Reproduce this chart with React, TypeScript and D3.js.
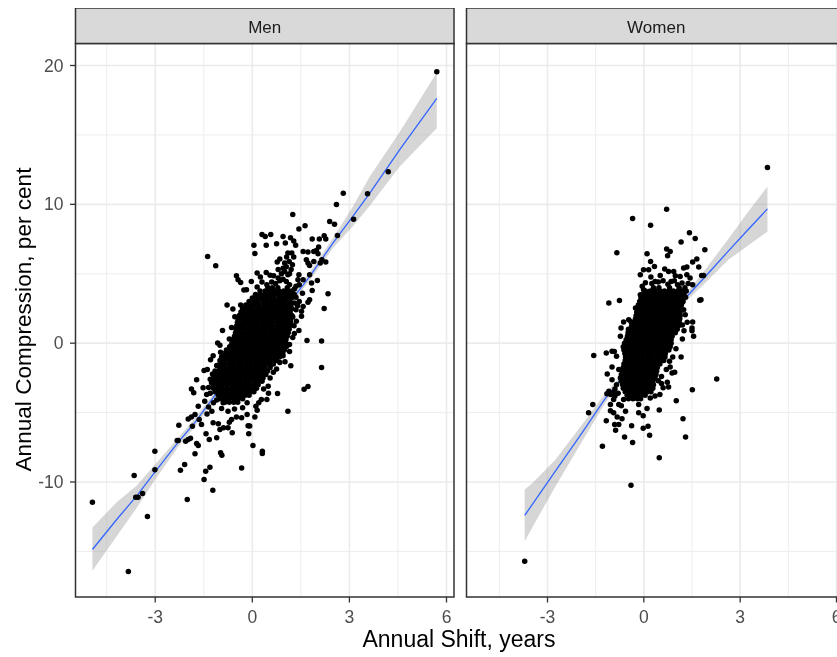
import React from "react";
import * as d3 from "d3";

const xMajor = [-3, 0, 3, 6];
const xMinor = [-4.5, -1.5, 1.5, 4.5];
const yMajor = [-10, 0, 10, 20];
const yMinor = [-15, -5, 5, 15];
const xTickLabels = ["-3", "0", "3", "6"];
const yTickLabels = ["-10", "0", "10", "20"];

const menFitX = [-4.94, -4.19, -3.57, -3.01, -2.3, -1.77, -1.21, -0.5, 0.2, 1.26, 1.77, 2.49, 3.1, 3.63, 4.55, 5.7];
const menFit = [-14.86, -12.7, -11.0, -9.29, -7.16, -5.7, -3.94, -1.6, 0.55, 3.25, 4.8, 7.2, 9.12, 10.8, 13.92, 17.64];
const menHi = [-13.27, -11.45, -10.25, -8.75, -6.85, -5.4, -3.7, -1.45, 0.7, 3.5, 5.1, 7.55, 9.8, 12.0, 15.2, 19.5];
const menLo = [-16.4, -13.9, -11.85, -9.85, -7.5, -6.0, -4.2, -1.75, 0.4, 3.0, 4.5, 6.85, 8.4, 9.9, 12.7, 15.48];

const womenFitX = [-3.71, -3.45, -2.75, -1.92, -1.2, -0.72, 0, 0.7, 1.39, 1.91, 2.63, 3.25, 3.85];
const womenFit = [-12.41, -11.54, -9.2, -6.44, -3.97, -2.63, -0.5, 1.5, 3.49, 4.78, 6.63, 8.19, 9.67];
const womenHi = [-10.54, -10.04, -8.38, -5.86, -3.6, -2.4, -0.35, 1.7, 3.8, 5.28, 7.5, 9.46, 11.28];
const womenLo = [-14.26, -13.18, -10.3, -7.06, -4.3, -2.85, -0.65, 1.3, 3.2, 4.33, 6.0, 7.03, 8.04];

// scattered observations, [shift, compression]
const menScatter: number[][] = [
  [5.7,19.55],[4.2,12.34],[3.56,10.76],[3.13,8.93],[2.81,10.8],[2.6,9.99],[2.39,8.76],[2.54,8.57],[2.63,7.75],
  [1.25,9.27],[1.44,8.22],[1.63,8.45],[0.3,7.83],[0.4,7.68],[0.57,7.83],[0.05,7.06],[0.43,7.06],[0.08,6.46],[0.75,7.16],
  [0.95,7.68],[1.02,7.21],[1.18,7.59],[1.28,7.35],[1.34,7.06],[1.85,7.5],[2.07,7.5],[2.22,7.73],[2.27,7.5],[2.05,6.92],
  [1.98,6.68],[1.57,6.6],[1.72,6.56],[1.9,6.6],[2.03,6.44],[1.1,6.49],[1.22,6.49],[1.28,6.2],[0.85,6.06],[0.77,5.84],
  [1.06,6.2],[1.14,5.88],[1.0,5.77],[1.24,5.65],[1.67,6.0],[1.72,5.77],[1.9,5.88],[1.77,5.6],[2.15,6.0],[2.27,5.84],[2.1,5.77],
  [-1.38,6.25],[-1.13,5.58],[0.15,5.05],[0.25,4.76],[0.43,5.09],[-0.49,4.86],[-0.44,4.57],[-0.36,4.37],[-0.03,4.45],[0.66,4.86],
  [1.0,5.17],[1.1,4.93],[1.44,4.93],[1.57,4.57],[1.41,4.57],[1.77,4.93],[2.01,4.52],[1.83,4.33],[1.85,3.8],[2.34,3.56],
  [2.22,2.5],[1.77,3.13],[1.72,2.95],[1.57,2.65],[1.52,2.29],[1.36,1.57],[1.29,1.26],[1.52,1.93],[1.44,0.92],[1.69,0.2],[2.14,0.16],
  [1.45,4.2],[1.3,3.9],[1.55,3.6],[1.35,3.3],[1.45,3.0],[0.6,4.4],[0.85,4.5],[1.05,4.45],[0.3,4.4],[0.15,4.05],
  [0.55,4.9],[0.8,4.7],[0.95,4.6],[0.72,4.3],[0.45,4.2],[1.15,4.2],[0.9,5.0],[0.8,5.3],[1.35,4.1],[1.3,3.5],[1.4,2.7],[1.35,2.4],[1.3,2.9],[1.05,5.5],[1.2,5.3],[1.15,5.0],[0.95,5.4],
  [-0.18,3.85],[-0.26,3.83],[-0.78,2.75],[-0.6,2.46],[-0.36,2.75],[-0.54,1.9],[-0.92,0.92],[-0.64,1.12],[-0.71,0.3],[-1.07,0.01],[-1.0,-0.15],
  [1.19,-1.62],[1.01,-1.33],[2.14,-1.76],[0.75,-1.86],[1.72,-3.13],[1.6,-3.32],[0.78,-3.63],[0.49,-3.1],[0.5,-3.6],[0.45,-4.06],[0.28,-4.06],
  [1.1,-4.9],[0.11,-4.54],[0.15,-4.83],[0.08,-5.31],[-0.16,-4.3],[-0.3,-4.66],[-0.16,-5.13],[-0.33,-5.38],[-0.49,-5.31],[-0.64,-5.5],[-0.71,-5.7],
  [-0.13,-5.94],[-0.08,-5.96],[-0.11,-6.53],[-0.62,-6.46],[-0.75,-6.1],[-0.89,-6.1],[-1.1,-6.82],[-1.0,-6.22],[-1.05,-5.8],[-1.21,-5.74],[-1.33,-6.94],
  [-1.43,-6.53],[-1.57,-5.86],[-1.64,-5.5],[-1.77,-5.14],[-1.88,-5.31],[-1.98,-5.46],[-1.67,-4.54],[-1.47,-4.19],[-1.41,-3.7],[-1.52,-3.22],[-1.26,-2.86],
  [-1.88,-3.3],[-1.81,-3.58],[-1.72,-2.63],[-1.49,-1.96],[-1.39,-1.9],[-1.23,-2.22],[-1.29,-1.19],[-1.21,-0.9],[-0.98,-0.66],[-1.35,-4.6],[-1.25,-4.9],[-0.95,-4.7],[-0.75,-4.9],[-0.55,-4.75],[-1.4,-5.1],
  [-1.1,-1.6],[-1.15,-2.0],[-1.3,-2.6],[-1.35,-3.2],[-1.3,-3.6],[-1.1,-4.1],[-0.9,-4.3],[-1.2,-4.3],[0.2,-4.3],[0.35,-3.3],[0.55,-2.5],[0.65,-2.1],[0.85,-1.4],[0.95,-0.9],[1.15,-0.6],[1.15,-0.1],[1.25,0.4],[1.3,0.7],[1.25,1.9],
  [-2.27,-5.91],[-1.85,-5.98],[-2.32,-7.01],[-2.06,-7.06],[-1.98,-6.94],[-1.91,-6.85],[-1.72,-7.23],[-1.67,-7.37],[-1.77,-7.97],[-0.98,-7.9],[-0.94,-8.07],
  [0.02,-7.37],[0.31,-7.78],[0.31,-7.95],[-2.09,-8.74],[-2.22,-9.15],[-1.31,-8.93],[-1.44,-9.22],[-0.33,-9.0],[-1.49,-9.82],[-1.22,-10.59],[-2.01,-11.26],
  [-4.94,-11.45],[-3.01,-7.78],[-3.65,-9.53],[-3.01,-9.12],[-3.6,-11.09],[-3.53,-11.09],[-3.39,-10.83],[-3.24,-12.48],[-3.83,-16.44],[-2.29,-7.01],
];

const womenScatter: number[][] = [
  [3.85,12.65],[0.71,9.65],[-0.35,8.98],[0.21,8.5],[1.42,7.95],[1.6,7.54],[1.16,7.28],[1.9,6.73],[-0.84,6.51],[0.1,6.44],[0.71,6.78],[0.82,6.6],[0.74,6.29],
  [0.21,5.88],[0.33,5.53],[1.65,6.06],[1.52,5.84],[1.71,5.48],[1.34,5.48],[1.24,5.41],[1.86,4.88],[1.8,4.87],[0.65,5.34],[0.77,5.17],[-0.01,5.29],[0.15,5.29],
  [-0.11,4.93],[0.22,4.76],[0.51,4.88],[0.93,5.17],[0.98,4.86],[1.13,4.81],[1.34,4.93],[1.44,4.69],[1.19,4.33],[1.38,4.3],[1.52,4.21],[0.6,4.5],[0.35,4.45],[0.85,4.45],[1.05,4.2],
  [0.25,4.3],[0.45,4.4],[0.75,4.25],[0.95,4.5],[0.05,4.35],[-0.05,4.1],
  [1.78,3.13],[1.74,3.1],[-1.09,2.89],[-0.76,3.08],[1.52,1.53],[1.35,1.5],[1.24,2.41],[1.29,2.05],[1.2,2.95],[1.3,3.3],[1.5,1.1],[-0.63,1.53],[-0.47,1.69],[-0.4,1.55],[-0.71,1.09],[-0.26,2.53],[-0.11,3.49],[-0.01,3.85],
  [-0.73,0.49],[1.5,0.9],[1.55,0.49],[-1.56,-0.88],[-1.17,-0.71],[-0.99,-0.59],[-0.92,-0.6],[-0.85,-0.95],[1.16,-1.0],[2.27,-2.58],[1.51,-3.35],[1.01,-4.14],[0.48,-4.81],[1.22,-5.45],[1.3,-6.75],[0.48,-8.26],[-0.4,-10.23],[-3.71,-15.7],
  [1.0,-0.4],[0.9,-1.0],[0.8,-1.3],[0.7,-1.9],[0.55,-2.4],[0.45,-2.7],[1.2,0.3],[1.25,0.9],[1.2,1.3],[-1.15,-3.65],[-1.05,-3.65],[-0.95,-3.55],[-0.9,-3.8],
  [-1.29,-7.42],[-0.35,-7.16],[-0.6,-6.75],[0.18,-6.63],[0.13,-5.98],[-0.02,-6.13],[-0.38,-5.94],[-0.88,-6.27],[-0.78,-5.86],[-0.91,-5.86],[-1.17,-5.58],[-0.68,-5.45],[-0.83,-5.31],[-0.94,-5.02],[-1.04,-4.86],[-0.57,-4.9],
  [-0.16,-5.02],[-0.02,-5.22],[0.1,-4.71],[-1.72,-5.02],[-1.59,-4.42],[-0.16,-4.42],[0.88,-2.14],[0.96,-2.1],[0.82,-1.71],[0.77,-3.15],[0.6,-3.22],[0.55,-2.9],[0.73,-2.82],[0.5,-3.7],[0.35,-3.8],[0.2,-3.95],
  [-1.14,-2.22],[-0.99,-1.71],[-0.99,-2.63],[-0.78,-1.9],[-1.09,-3.47],[-1.03,-3.7],[-0.94,-4.06],[-0.78,-4.42],[-1.04,-4.42],[-0.63,-4.06],[-0.8,-3.6],[-0.9,-3.3],[-0.85,-3.0],[-0.7,-4.5],
];

// dense centre of the clouds, each row: compression, then the shifts read at that level
const menCore: number[][] = [
  [4,.48,.62,.79,1.08],
  [3.75,.24,.4,.55,.69,.82,.97,1.11,1.22],
  [3.5,.1,.25,.38,.52,.66,.8,.93,1.07,1.2],
  [3.25,0,.12,.26,.41,.54,.67,.82,.95,1.09,1.21],
  [3,-.1,.05,.18,.33,.46,.61,.74,.88,1.01,1.16],
  [2.75,-.2,-.06,.08,.21,.36,.49,.63,.77,.9,1.04,1.18],
  [2.5,-.3,-.15,-.01,.14,.27,.41,.55,.69,.82,.97,1.1,1.22],
  [2.25,-.35,-.21,-.08,.07,.2,.34,.48,.62,.76,.9,1.03,1.17],
  [2,-.4,-.27,-.13,.01,.15,.28,.42,.56,.7,.83,.97,1.11,1.22],
  [1.75,-.44,-.31,-.17,-.03,.1,.24,.38,.52,.65,.79,.94,1.07,1.19],
  [1.5,-.46,-.33,-.2,-.06,.08,.21,.35,.49,.63,.77,.9,1.04,1.18],
  [1.25,-.48,-.35,-.21,-.07,.07,.2,.34,.48,.62,.76,.89,1.03,1.16],
  [1,-.5,-.37,-.23,-.09,.05,.18,.32,.46,.6,.74,.87,1.01,1.14],
  [.75,-.52,-.38,-.25,-.11,.03,.17,.31,.44,.58,.72,.86,.99,1.11],
  [.5,-.55,-.41,-.27,-.13,0,.14,.28,.42,.56,.7,.83,.97,1.08],
  [.25,-.6,-.46,-.32,-.18,-.05,.09,.23,.37,.51,.65,.78,.92,1.04],
  [0,-.63,-.5,-.36,-.22,-.08,.06,.19,.33,.47,.61,.75,.88,1.02],
  [-.25,-.7,-.56,-.42,-.28,-.15,-.01,.13,.27,.41,.55,.68,.82,.96,1.05],
  [-.5,-.8,-.66,-.52,-.38,-.25,-.11,.03,.17,.31,.44,.58,.72,.86,.99],
  [-.75,-.85,-.71,-.57,-.43,-.3,-.16,-.02,.12,.26,.39,.53,.67,.81,.94],
  [-1,-.95,-.81,-.67,-.53,-.4,-.26,-.12,.02,.16,.29,.43,.57,.71,.84],
  [-1.25,-1,-.86,-.72,-.58,-.44,-.31,-.17,-.03,.11,.25,.38,.52,.66,.75],
  [-1.5,-1,-.87,-.73,-.59,-.45,-.32,-.18,-.04,.1,.24,.37,.51,.65],
  [-1.75,-1,-.86,-.72,-.58,-.44,-.31,-.17,-.03,.11,.25,.39,.55],
  [-2,-1.05,-.91,-.77,-.63,-.5,-.36,-.22,-.08,.06,.2,.33,.47],
  [-2.25,-1.1,-.96,-.82,-.68,-.54,-.41,-.27,-.13,.01,.15,.29,.42],
  [-2.5,-1.2,-1.06,-.92,-.78,-.64,-.5,-.37,-.23,-.09,.05,.19,.33],
  [-2.75,-1.2,-1.07,-.93,-.79,-.65,-.51,-.38,-.24,-.1,.04,.18,.3],
  [-3,-1.2,-1.06,-.92,-.78,-.64,-.51,-.37,-.23,-.09,.05,.18],
  [-3.25,-1.2,-1.06,-.93,-.79,-.65,-.51,-.37,-.24,-.1,.04,.13],
  [-3.5,-1.15,-1.01,-.87,-.73,-.59,-.45,-.32,-.18,-.04,.05],
  [-3.75,-1.05,-.91,-.77,-.63,-.49,-.36,-.22,-.1],
  [-4,-1,-.86,-.72,-.58,-.44,-.3],
  [-4.25,-.85,-.71,-.57,-.45],
];

const womenCore: number[][] = [
  [4,.3,.47,.8,1.1,1.28],
  [3.75,.05,.2,.35,.5,.64,.78,.92,1.06,1.2,1.32],
  [3.5,-.02,.12,.27,.41,.55,.69,.83,.97,1.11,1.25],
  [3.25,-.09,.05,.19,.33,.47,.61,.75,.89,1.03,1.17],
  [3,-.13,.01,.15,.29,.43,.57,.71,.85,.99,1.13,1.22],
  [2.75,-.17,-.03,.11,.25,.39,.53,.67,.81,.95,1.09,1.17],
  [2.5,-.2,-.06,.08,.22,.36,.5,.64,.78,.92,1.06,1.13],
  [2.25,-.22,-.08,.06,.2,.34,.48,.62,.76,.9,1.04,1.13],
  [2,-.24,-.1,.04,.18,.32,.46,.6,.74,.88,1.02,1.13],
  [1.75,-.26,-.12,.02,.16,.3,.44,.58,.72,.86,1,1.12],
  [1.5,-.3,-.16,-.02,.12,.26,.4,.54,.68,.82,.96,1.1],
  [1.25,-.38,-.24,-.1,.04,.18,.32,.46,.6,.74,.88,1.02,1.08],
  [1,-.48,-.34,-.2,-.06,.08,.22,.36,.5,.64,.78,.92,1.04],
  [.75,-.49,-.35,-.21,-.07,.07,.21,.35,.49,.63,.77,.9,.98],
  [.5,-.51,-.37,-.23,-.09,.05,.19,.33,.47,.61,.75,.88],
  [.25,-.55,-.41,-.27,-.13,.01,.15,.29,.43,.57,.71,.85],
  [0,-.6,-.46,-.32,-.18,-.04,.1,.24,.38,.52,.66,.8,.85],
  [-.25,-.64,-.5,-.36,-.22,-.08,.06,.2,.34,.48,.62,.76,.82],
  [-.5,-.62,-.48,-.34,-.2,-.06,.08,.22,.36,.5,.64,.78],
  [-.75,-.59,-.45,-.31,-.17,-.03,.11,.25,.39,.53,.67],
  [-1,-.57,-.43,-.29,-.15,-.01,.13,.27,.41,.55,.66],
  [-1.25,-.58,-.44,-.3,-.16,-.02,.12,.26,.4,.54,.62],
  [-1.5,-.62,-.48,-.34,-.2,-.06,.08,.22,.36,.5],
  [-1.75,-.64,-.5,-.36,-.22,-.08,.06,.2,.34,.42],
  [-2,-.66,-.52,-.38,-.24,-.1,.04,.18,.32,.4],
  [-2.25,-.7,-.56,-.42,-.28,-.14,0,.14,.28,.38],
  [-2.5,-.73,-.59,-.45,-.31,-.17,-.03,.11,.25,.35],
  [-2.75,-.7,-.56,-.42,-.28,-.14,0,.14,.28],
  [-3,-.66,-.52,-.38,-.24,-.1,.04,.18,.3],
  [-3.25,-.64,-.5,-.36,-.22,-.08,.06,.2,.28],
  [-3.5,-.58,-.44,-.3,-.16,-.02,.12,.22],
  [-3.75,-.52,-.38,-.24,-.1,.04],
  [-4,-.48,-.34,-.2,-.1],
];

const FONT = "'Liberation Sans', Arial, sans-serif";
const W = 837, H = 657;
const panelTop = 43.5, panelBottom = 597, stripTop = 8;
const y = d3.scaleLinear().domain([-10, 20]).range([482, 65.5]);

const expand = (rows: number[][]) => rows.flatMap((r) => r.slice(1).map((v) => [v, r[0]]));

function Panel(props: {
  title: string; left: number; right: number; x: d3.ScaleLinear<number, number>;
  fx: number[]; fit: number[]; hi: number[]; lo: number[]; scatter: number[][]; core: number[][];
}) {
  const { title, left, right, x, fx, fit, hi, lo, scatter, core } = props;
  const idx = d3.range(fx.length);
  const area = d3.area<number>().x((i) => x(fx[i])).y0((i) => y(lo[i])).y1((i) => y(hi[i]))(idx) ?? "";
  const line = d3.line<number>().x((i) => x(fx[i])).y((i) => y(fit[i]))(idx) ?? "";
  const pts = [...expand(core), ...scatter];
  return (
    <g>
      <rect x={left} y={panelTop} width={right - left} height={panelBottom - panelTop} fill="#fff" />
      {xMinor.map((v) => <line key={v} x1={x(v)} x2={x(v)} y1={panelTop} y2={panelBottom} stroke="#ebebeb" strokeWidth={0.9} />)}
      {yMinor.map((v) => <line key={v} x1={left} x2={right} y1={y(v)} y2={y(v)} stroke="#ebebeb" strokeWidth={0.9} />)}
      {xMajor.map((v) => <line key={v} x1={x(v)} x2={x(v)} y1={panelTop} y2={panelBottom} stroke="#ebebeb" strokeWidth={1.6} />)}
      {yMajor.map((v) => <line key={v} x1={left} x2={right} y1={y(v)} y2={y(v)} stroke="#ebebeb" strokeWidth={1.6} />)}
      <path d={area} fill="#999" fillOpacity={0.4} />
      <path d={line} fill="none" stroke="#3366ff" strokeWidth={1.3} />
      {pts.map((p, i) => <circle key={i} cx={x(p[0])} cy={y(p[1])} r={2.75} fill="#000" />)}
      <rect x={left} y={panelTop} width={right - left} height={panelBottom - panelTop} fill="none" stroke="#333" strokeWidth={1.5} />
      <rect x={left} y={stripTop} width={right - left} height={panelTop - stripTop} fill="#d9d9d9" stroke="#333" strokeWidth={1.5} />
      <text x={(left + right) / 2 - 10 * (left > 100 ? 1 : 0)} y={33} textAnchor="middle" fontSize={17} fill="#1a1a1a">{title}</text>
      {xMajor.map((v, i) => (
        <g key={v}>
          <line x1={x(v)} x2={x(v)} y1={panelBottom} y2={panelBottom + 5.5} stroke="#333" strokeWidth={1.3} />
          <text x={x(v)} y={623} textAnchor="middle" fontSize={17.5} fill="#4d4d4d">{xTickLabels[i]}</text>
        </g>
      ))}
    </g>
  );
}

export default function App() {
  const xMen = d3.scaleLinear().domain([-3, 6]).range([155.2, 446.5]);
  const xWomen = d3.scaleLinear().domain([-3, 6]).range([547.5, 836.5]);
  return (
    <svg width={W} height={H} viewBox={`0 0 ${W} ${H}`} fontFamily={FONT}
      style={{ position: "absolute", left: 0, top: 0, display: "block", background: "#fff" }}>
      <defs>
        <filter id="soft" x="0" y="0" width="100%" height="100%"><feGaussianBlur stdDeviation={0.4} /></filter>
      </defs>
      <g filter="url(#soft)">
        <Panel title="Men" left={75.5} right={454} x={xMen} fx={menFitX} fit={menFit} hi={menHi} lo={menLo} scatter={menScatter} core={menCore} />
        <Panel title="Women" left={466.5} right={866} x={xWomen} fx={womenFitX} fit={womenFit} hi={womenHi} lo={womenLo} scatter={womenScatter} core={womenCore} />
        {yMajor.map((v, i) => (
          <g key={v}>
            <line x1={70} x2={75.5} y1={y(v)} y2={y(v)} stroke="#333" strokeWidth={1.3} />
            <text x={63.5} y={y(v) + 6} textAnchor="end" fontSize={17.5} fill="#4d4d4d">{yTickLabels[i]}</text>
          </g>
        ))}
        <text x={459} y={647} textAnchor="middle" fontSize={23} fill="#000">Annual Shift, years</text>
        <text transform="translate(31,319.5) rotate(-90)" textAnchor="middle" fontSize={22.6} fill="#000">Annual Compression, per cent</text>
      </g>
    </svg>
  );
}
